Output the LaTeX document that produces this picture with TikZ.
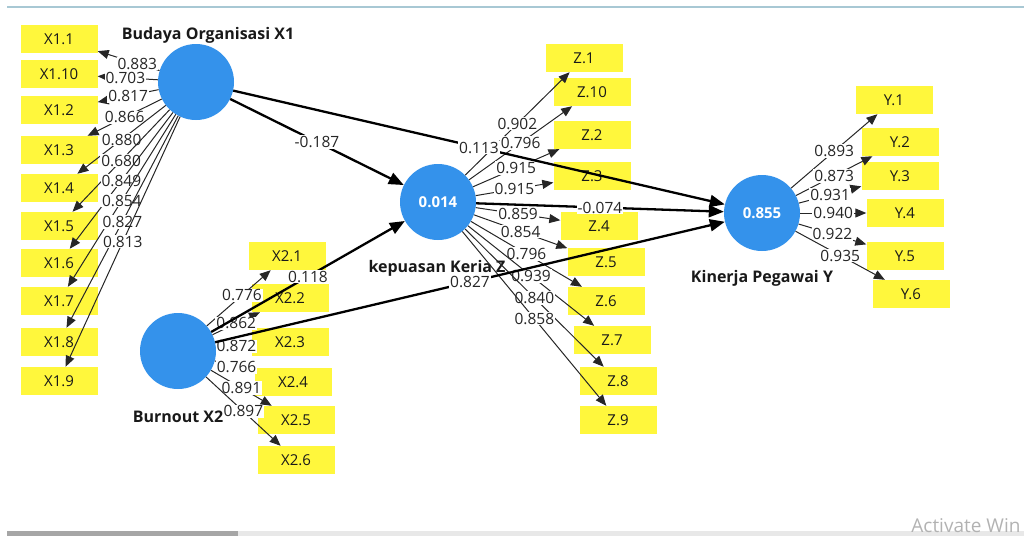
\documentclass[tikz,border=0pt]{standalone}
\usepackage{fontspec}
\setmainfont{Open Sans}
\usetikzlibrary{arrows.meta}

\definecolor{lvblue}{RGB}{52,146,235}
\definecolor{indyellow}{RGB}{255,247,60}
\definecolor{topline}{RGB}{168,200,212}

\begin{document}
\begin{tikzpicture}
  [x=1pt, y=-1pt,
   lv/.style={shape=circle, fill=lvblue, minimum size=76pt, inner sep=0pt, text=white, font=\fontsize{15}{17}\selectfont\bfseries},
   ind/.style={shape=rectangle, fill=indyellow, minimum width=77pt, minimum height=28pt, inner sep=0pt, text=black!90, font=\fontsize{15}{17}\selectfont},
   lvname/.style={text=black!90, font=\fontsize{16}{18}\selectfont\bfseries},
   load/.style={draw=black!85, line width=1pt, -{Triangle[length=11pt,width=9pt]}},
   struc/.style={draw=black, line width=2.3pt, -{Triangle[length=15pt,width=12pt]}},
   coef/.style={fill=white, inner sep=1pt, text=black!85, font=\fontsize{15.5}{17}\selectfont}]

  \useasboundingbox (0,0) rectangle (1024,536);

  \draw[topline, line width=1.3pt] (7,7) -- (1024,7);
  \fill[black!35] (7,531) rectangle (238,536);
  \fill[black!9] (238,531) rectangle (1024,536);
  \node[anchor=base east, text=black!30, font=\fontsize{19}{20}\selectfont] (watermark) at (1024,532) {Activate Win};

  \node[lv] (X1) at (196,82) {};
  \node[lv] (X2) at (178,351) {};
  \node[lv] (Z) at (438,202) {0.014};
  \node[lv] (Y) at (762,213) {0.855};

  \node[lvname] (X1name) at (208,35) {Budaya Organisasi X1};
  \node[lvname] (X2name) at (178,417) {Burnout X2};
  \node[lvname] (Zname) at (437,268) {kepuasan Keria Z};
  \node[lvname] (Yname) at (762,278) {Kinerja Pegawai Y};

  \node[ind] (x1-1) at (59,39) {X1.1};
  \node[ind] (x1-10) at (59,74) {X1.10};
  \node[ind] (x1-2) at (59,110) {X1.2};
  \node[ind] (x1-3) at (59,150) {X1.3};
  \node[ind] (x1-4) at (59,188) {X1.4};
  \node[ind] (x1-5) at (59,226) {X1.5};
  \node[ind] (x1-6) at (59,263) {X1.6};
  \node[ind] (x1-7) at (59,301) {X1.7};
  \node[ind] (x1-8) at (59,342) {X1.8};
  \node[ind] (x1-9) at (59,381) {X1.9};

  \node[ind] (x2-1) at (287,256) {X2.1};
  \node[ind] (x2-2) at (290,298) {X2.2};
  \node[ind] (x2-3) at (290,342) {X2.3};
  \node[ind] (x2-4) at (293,382) {X2.4};
  \node[ind] (x2-5) at (296,420) {X2.5};
  \node[ind] (x2-6) at (296,460) {X2.6};

  \node[ind] (z-1) at (584,58) {Z.1};
  \node[ind] (z-10) at (592,92) {Z.10};
  \node[ind] (z-2) at (592,135) {Z.2};
  \node[ind] (z-3) at (592,176) {Z.3};
  \node[ind] (z-4) at (599,226) {Z.4};
  \node[ind] (z-5) at (606,262) {Z.5};
  \node[ind] (z-6) at (606,301) {Z.6};
  \node[ind] (z-7) at (612,340) {Z.7};
  \node[ind] (z-8) at (618,381) {Z.8};
  \node[ind] (z-9) at (618,420) {Z.9};

  \node[ind] (y-1) at (894,100) {Y.1};
  \node[ind] (y-2) at (900,142) {Y.2};
  \node[ind] (y-3) at (900,176) {Y.3};
  \node[ind] (y-4) at (905,213) {Y.4};
  \node[ind] (y-5) at (905,256) {Y.5};
  \node[ind] (y-6) at (911,294) {Y.6};

  \draw[load] (X1) -- (x1-1) node[coef, pos=0.36] {0.883};
  \draw[load] (X1) -- (x1-10) node[coef, pos=0.54] {0.703};
  \draw[load] (X1) -- (x1-2) node[coef, midway] {0.817};
  \draw[load] (X1) -- (x1-3) node[coef, midway] {0.866};
  \draw[load] (X1) -- (x1-4) node[coef, midway] {0.880};
  \draw[load] (X1) -- (x1-5) node[coef, midway] {0.680};
  \draw[load] (X1) -- (x1-6) node[coef, midway] {0.849};
  \draw[load] (X1) -- (x1-7) node[coef, midway] {0.854};
  \draw[load] (X1) -- (x1-8) node[coef, midway] {0.827};
  \draw[load] (X1) -- (x1-9) node[coef, midway] {0.813};

  \draw[load] (X2) -- (x2-1) node[coef, pos=0.55] {0.776};
  \draw[load] (X2) -- (x2-2) node[coef, midway] {0.862};
  \draw[load] (X2) -- (x2-3) node[coef, pos=0.58] {0.872};
  \draw[load] (X2) -- (x2-4) node[coef, pos=0.55] {0.766};
  \draw[load] (X2) -- (x2-5) node[coef, midway] {0.891};
  \draw[load] (X2) -- (x2-6) node[coef, midway] {0.897};

  \draw[load] (Z) -- (z-1) node[coef, midway] {0.902};
  \draw[load] (Z) -- (z-10) node[coef, midway] {0.796};
  \draw[load] (Z) -- (z-2) node[coef, midway] {0.915};
  \draw[load] (Z) -- (z-3) node[coef, midway] {0.915};
  \draw[load] (Z) -- (z-4) node[coef, midway] {0.859};
  \draw[load] (Z) -- (z-5) node[coef, midway] {0.854};
  \draw[load] (Z) -- (z-6) node[coef, midway] {0.796};
  \draw[load] (Z) -- (z-7) node[coef, midway] {0.939};
  \draw[load] (Z) -- (z-8) node[coef, midway] {0.840};
  \draw[load] (Z) -- (z-9) node[coef, midway] {0.858};

  \draw[load] (Y) -- (y-1) node[coef, midway] {0.893};
  \draw[load] (Y) -- (y-2) node[coef, midway] {0.873};
  \draw[load] (Y) -- (y-3) node[coef, midway] {0.931};
  \draw[load] (Y) -- (y-4) node[coef, midway] {0.940};
  \draw[load] (Y) -- (y-5) node[coef, midway] {0.922};
  \draw[load] (Y) -- (y-6) node[coef, midway] {0.935};

  \draw[struc] (X1) -- (Z) node[coef, midway] {-0.187};
  \draw[struc] (X1) -- (Y) node[coef, midway] {0.113};
  \draw[struc] (X2) -- (Z) node[coef, midway] {0.118};
  \draw[struc] (X2) -- (Y) node[coef, midway] {0.827};
  \draw[struc] (Z) -- (Y) node[coef, midway] {-0.074};

\end{tikzpicture}
\end{document}
